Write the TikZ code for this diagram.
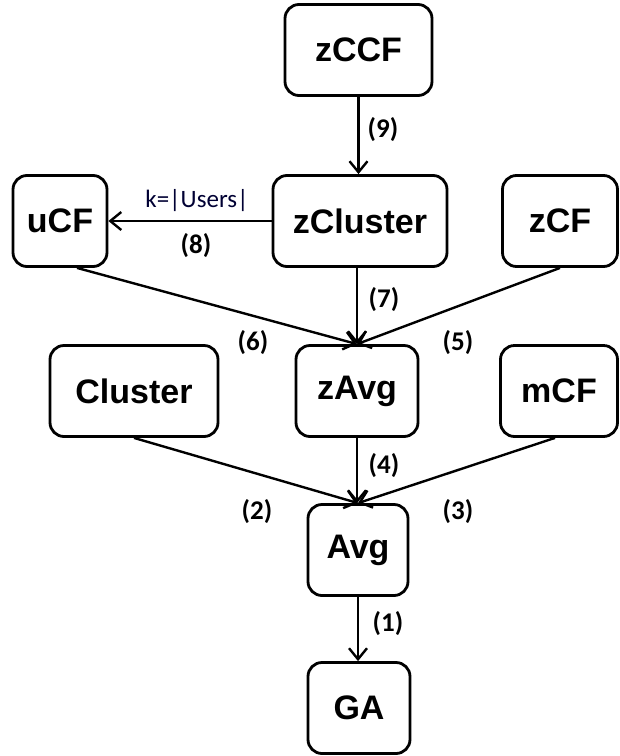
\documentclass[tikz,border=0pt]{standalone}
\usepackage{fontspec}
\setmainfont{Liberation Sans}
\newfontfamily\labfont{Carlito}
\usetikzlibrary{arrows.meta}
\begin{document}
\begin{tikzpicture}[x=1pt,y=-1pt,
  box/.style={draw, line width=2.8pt, rounded corners=14pt, inner sep=0pt,
    font=\fontsize{34}{36}\selectfont\bfseries, minimum height=91pt},
  conn/.style={line width=2.4pt, -{Straight Barb[length=11pt,width=18pt,line width=2.4pt]}},
  num/.style={font=\labfont\fontsize{27}{28}\selectfont\bfseries, inner sep=0pt},
  klab/.style={font=\labfont\fontsize{25}{26}\selectfont, text=black!80!blue, inner sep=0pt}]
\useasboundingbox (0,0) rectangle (620,756);
\node[box, minimum width=147pt] (zccf) at (358.5,50) {zCCF};
\node[box, minimum width=174pt] (zcluster) at (360,221) {zCluster};
\node[box, minimum width=94pt] (ucf) at (60,221) {uCF};
\node[box, minimum width=115pt] (zcf) at (560,221) {zCF};
\node[box, minimum width=168pt] (cluster) at (134,391) {Cluster};
\node[box, minimum width=122pt] (zavg) at (357,391) {zAvg};
\node[box, minimum width=117pt] (mcf) at (559,391) {mCF};
\node[box, minimum width=100pt] (avg) at (358,550) {Avg};
\node[box, minimum width=102pt] (ga) at (359,708) {GA};

\draw[conn] (zccf.south) -- (zccf.south |- zcluster.north);
\draw[conn] (zcluster.west) -- (ucf.east);
\draw[conn] (zcluster.south -| zavg.north) -- (zavg.north);
\draw[conn] ([xshift=17pt]ucf.south) -- (zavg.north);
\draw[conn] (zcf.south) -- (zavg.north);
\draw[conn] (zavg.south) -- (zavg.south |- avg.north);
\draw[conn] (cluster.south) -- (avg.north);
\draw[conn] ([xshift=-4pt]mcf.south) -- (avg.north);
\draw[conn] (avg.south) -- (avg.south |- ga.north);

\node[klab] (k) at (197,201) {k=|Users|};
\node[num] (l8) at (196,246) {(8)};
\node[num] (l9) at (383,130) {(9)};
\node[num] (l7) at (384,300) {(7)};
\node[num] (l6) at (253,343) {(6)};
\node[num] (l5) at (458,343) {(5)};
\node[num] (l4) at (384,466) {(4)};
\node[num] (l2) at (257,512) {(2)};
\node[num] (l3) at (458,512) {(3)};
\node[num] (l1) at (388,624) {(1)};
\end{tikzpicture}
\end{document}
